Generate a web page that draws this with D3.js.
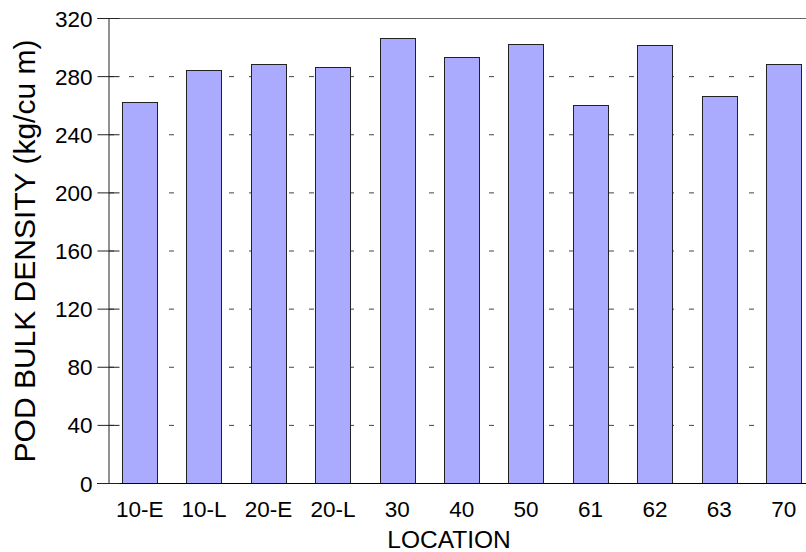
<!DOCTYPE html>
<html><head><meta charset="utf-8">
<script src="https://cdn.jsdelivr.net/npm/d3@7"></script>
<style>body{margin:0;background:#fff}svg{display:block}text{font-family:"Liberation Sans",Arial,sans-serif;fill:#000}</style>
</head><body><svg id="c" width="806" height="552"></svg>
<script>
const categories = ["10-E","10-L","20-E","20-L","30","40","50","61","62","63","70"];
const values = [262, 284, 288, 286, 306, 293, 302, 260, 301.5, 266, 288];
const yTicks = [0,40,80,120,160,200,240,280,320];
const yTitle = "POD BULK DENSITY (kg/cu m)";
const xTitle = "LOCATION";

const svg = d3.select("#c");
const L = 108, T = 18, B = 483, R = 806;
const y = d3.scaleLinear().domain([0,320]).range([B,T]);
const x = d3.scaleBand().domain(categories).range([L, 815.4]).paddingInner(0.45).paddingOuter(0.217);

// gridlines
svg.append("g").selectAll("line").data(yTicks.filter(d=>d>0&&d<320)).join("line")
  .attr("x1",L).attr("x2",R).attr("y1",d=>y(d)+0.5).attr("y2",d=>y(d)+0.5)
  .attr("stroke","#444").attr("stroke-width",1).attr("stroke-dasharray","5,15").attr("stroke-dashoffset",-1);

// bars
svg.append("g").selectAll("rect").data(categories).join("rect")
  .attr("x",d=>Math.round(x(d))+0.5).attr("y",(d,i)=>Math.round(y(values[i]))+0.5)
  .attr("width",Math.round(x.bandwidth())).attr("height",(d,i)=>Math.round(B-y(values[i])))
  .attr("fill","#aaaaff").attr("stroke","#222").attr("stroke-width",1);

// frame top
svg.append("line").attr("x1",97).attr("x2",R).attr("y1",T+0.5).attr("y2",T+0.5).attr("stroke","#666");
// bottom axis
svg.append("line").attr("x1",97).attr("x2",R).attr("y1",B+0.5).attr("y2",B+0.5).attr("stroke","#000");
// left axis
const ya = d3.axisLeft(y).tickValues(yTicks).tickSize(11).tickPadding(5).tickSizeOuter(0);
const g = svg.append("g").attr("transform",`translate(${L+0.5},0)`).call(ya);
g.select(".domain").attr("stroke","#222");
g.selectAll(".tick line").attr("x2",11).attr("x1",-11).attr("stroke","#222");
g.selectAll(".tick text").attr("font-size",22.5).attr("x",-16).attr("dy","0.36em").style("font-family",'"Liberation Sans",Arial,sans-serif');

// x labels
const xa = d3.axisBottom(x).tickSize(0).tickPadding(18);
const gx = svg.append("g").attr("transform",`translate(0,${B})`).call(xa);
gx.select(".domain").remove();
gx.selectAll(".tick text").attr("font-size",22.5).attr("dy","0.71em").style("font-family",'"Liberation Sans",Arial,sans-serif');

svg.append("text").attr("x",449).attr("y",548).attr("text-anchor","middle").attr("font-size",24.5).text(xTitle);
svg.append("text").attr("transform","translate(35,251) rotate(-90)").attr("text-anchor","middle").attr("font-size",30).text(yTitle);
</script></body></html>
